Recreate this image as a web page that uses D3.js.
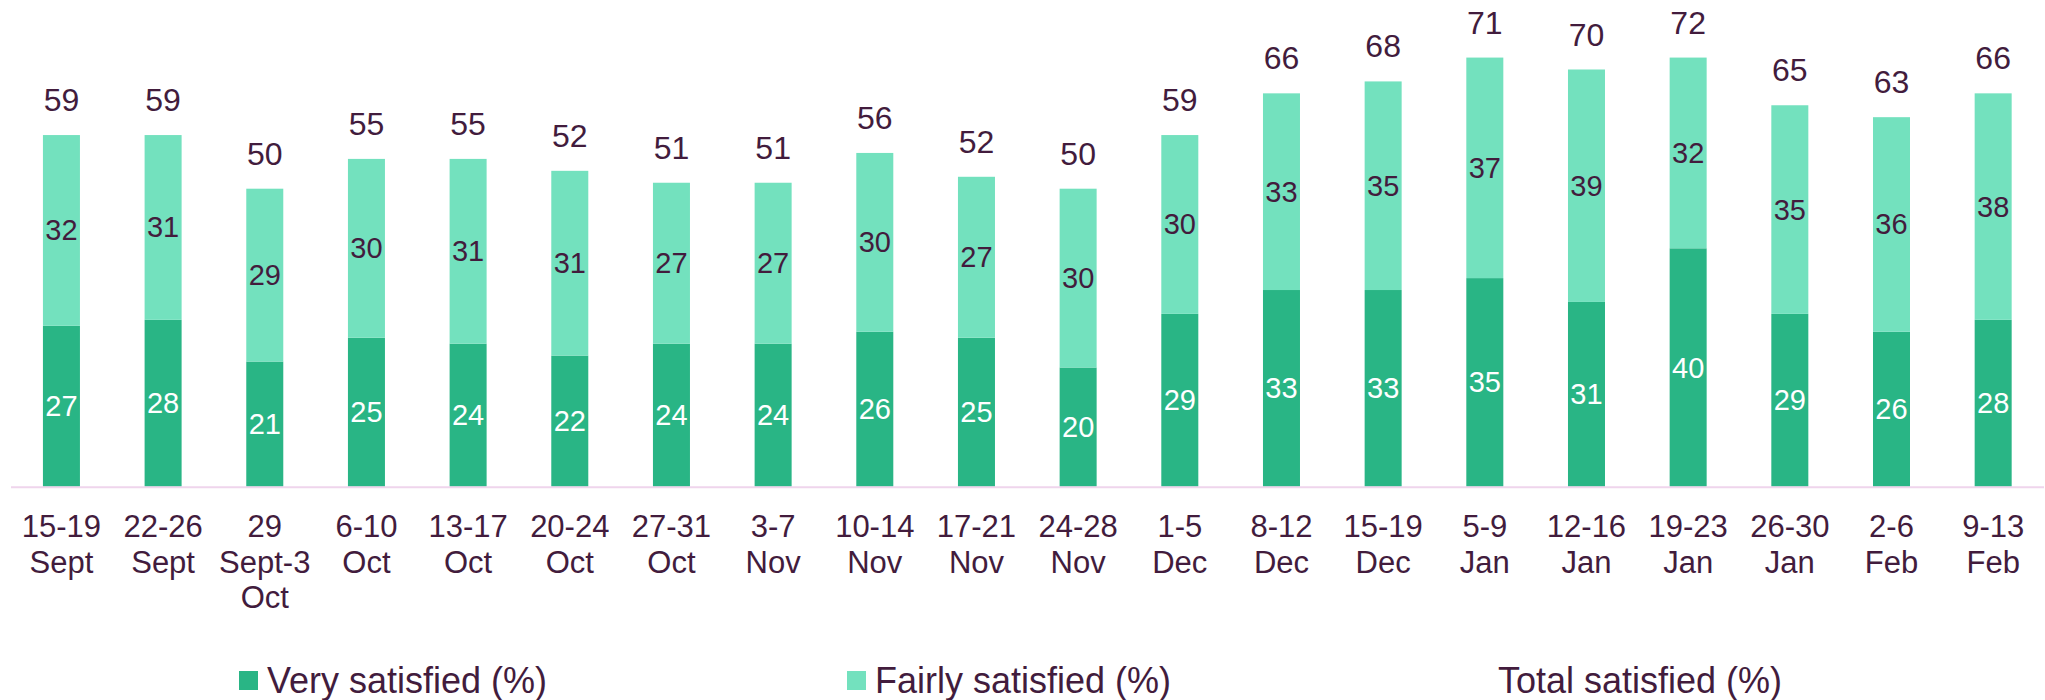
<!DOCTYPE html>
<html lang="en">
	<head>
		<meta charset="UTF-8" />
		<title>Satisfaction by week</title>
		<script src="https://d3js.org/d3.v7.min.js"></script>
		<style>
			body {
				margin: 0;
				padding: 0;
				background: #fff;
				font-family: Arial, "Liberation Sans", sans-serif;
			}
			text {
				fill: #421c3d;
			}
		</style>
	</head>
	<body>
		<svg width="2045" height="700"></svg>
		<script>
			const weeks = [
				["15-19", "Sept"],
				["22-26", "Sept"],
				["29", "Sept-3", "Oct"],
				["6-10", "Oct"],
				["13-17", "Oct"],
				["20-24", "Oct"],
				["27-31", "Oct"],
				["3-7", "Nov"],
				["10-14", "Nov"],
				["17-21", "Nov"],
				["24-28", "Nov"],
				["1-5", "Dec"],
				["8-12", "Dec"],
				["15-19", "Dec"],
				["5-9", "Jan"],
				["12-16", "Jan"],
				["19-23", "Jan"],
				["26-30", "Jan"],
				["2-6", "Feb"],
				["9-13", "Feb"],
			];
			const verySatisfied = [27, 28, 21, 25, 24, 22, 24, 24, 26, 25, 20, 29, 33, 33, 35, 31, 40, 29, 26, 28];
			const fairlySatisfied = [32, 31, 29, 30, 31, 31, 27, 27, 30, 27, 30, 30, 33, 35, 37, 39, 32, 35, 36, 38];
			const totalSatisfied = [59, 59, 50, 55, 55, 52, 51, 51, 56, 52, 50, 59, 66, 68, 71, 70, 72, 65, 63, 66];

			const darkGreen = "#29b585";
			const lightGreen = "#73e1be";
			const textColor = "#421c3d";

			const svg = d3.select("svg");

			const x = d3
				.scaleBand()
				.domain(d3.range(weeks.length))
				.range([10.6, 2044])
				.paddingInner(0.636)
				.paddingOuter(0.318);

			const y = d3.scaleLinear().domain([0, 80]).range([486.7, 9.9]);

			const rows = weeks.map((w, i) => ({
				i,
				very: verySatisfied[i],
				fairly: fairlySatisfied[i],
				total: totalSatisfied[i],
			}));

			// dark segment
			svg
				.append("g")
				.selectAll("rect")
				.data(rows)
				.join("rect")
				.attr("x", (d) => x(d.i))
				.attr("width", x.bandwidth())
				.attr("y", (d) => y(d.very))
				.attr("height", (d) => y(0) - y(d.very))
				.attr("fill", darkGreen);

			// light segment
			svg
				.append("g")
				.selectAll("rect")
				.data(rows)
				.join("rect")
				.attr("x", (d) => x(d.i))
				.attr("width", x.bandwidth())
				.attr("y", (d) => y(d.very + d.fairly))
				.attr("height", (d) => y(d.very) - y(d.very + d.fairly))
				.attr("fill", lightGreen);

			// axis line
			svg
				.append("line")
				.attr("x1", 11)
				.attr("x2", 2044)
				.attr("y1", y(0) + 0.5)
				.attr("y2", y(0) + 0.5)
				.attr("stroke", "#efd5ec")
				.attr("stroke-width", 2);

			const cx = (d) => x(d.i) + x.bandwidth() / 2;

			// labels inside segments
			svg
				.append("g")
				.selectAll("text")
				.data(rows)
				.join("text")
				.attr("x", cx)
				.attr("y", (d) => (y(0) + y(d.very)) / 2 + 10)
				.attr("text-anchor", "middle")
				.style("font-size", "29px")
				.style("fill", "#ffffff")
				.text((d) => d.very);

			svg
				.append("g")
				.selectAll("text")
				.data(rows)
				.join("text")
				.attr("x", cx)
				.attr("y", (d) => (y(d.very) + y(d.very + d.fairly)) / 2 + 10)
				.attr("text-anchor", "middle")
				.style("font-size", "29px")
				.text((d) => d.fairly);

			// totals above the bars
			svg
				.append("g")
				.selectAll("text")
				.data(rows)
				.join("text")
				.attr("x", cx)
				.attr("y", (d) => y(d.very + d.fairly) - 24)
				.attr("text-anchor", "middle")
				.style("font-size", "32px")
				.text((d) => d.total);

			// category labels
			const cat = svg
				.append("g")
				.selectAll("text")
				.data(rows)
				.join("text")
				.attr("x", cx)
				.attr("y", 537)
				.attr("text-anchor", "middle")
				.style("font-size", "31px");

			cat
				.selectAll("tspan")
				.data((d) => weeks[d.i].map((t) => ({ t, x: cx(d) })))
				.join("tspan")
				.attr("x", (d) => d.x)
				.attr("dy", (d, j) => (j === 0 ? 0 : 35.5))
				.text((d) => d.t);

			// legend
			const legend = [
				{ name: "Very satisfied (%)", color: darkGreen, x: 239 },
				{ name: "Fairly satisfied (%)", color: lightGreen, x: 847 },
				{ name: "Total satisfied (%)", color: null, x: 1470 },
			];

			const lg = svg
				.append("g")
				.selectAll("g")
				.data(legend)
				.join("g")
				.attr("transform", (d) => `translate(${d.x},0)`);

			lg.filter((d) => d.color)
				.append("rect")
				.attr("y", 671)
				.attr("width", 19)
				.attr("height", 19)
				.attr("fill", (d) => d.color);

			lg.append("text")
				.attr("x", 28)
				.attr("y", 692.5)
				.style("font-size", "36px")
				.text((d) => d.name);
		</script>
	</body>
</html>
